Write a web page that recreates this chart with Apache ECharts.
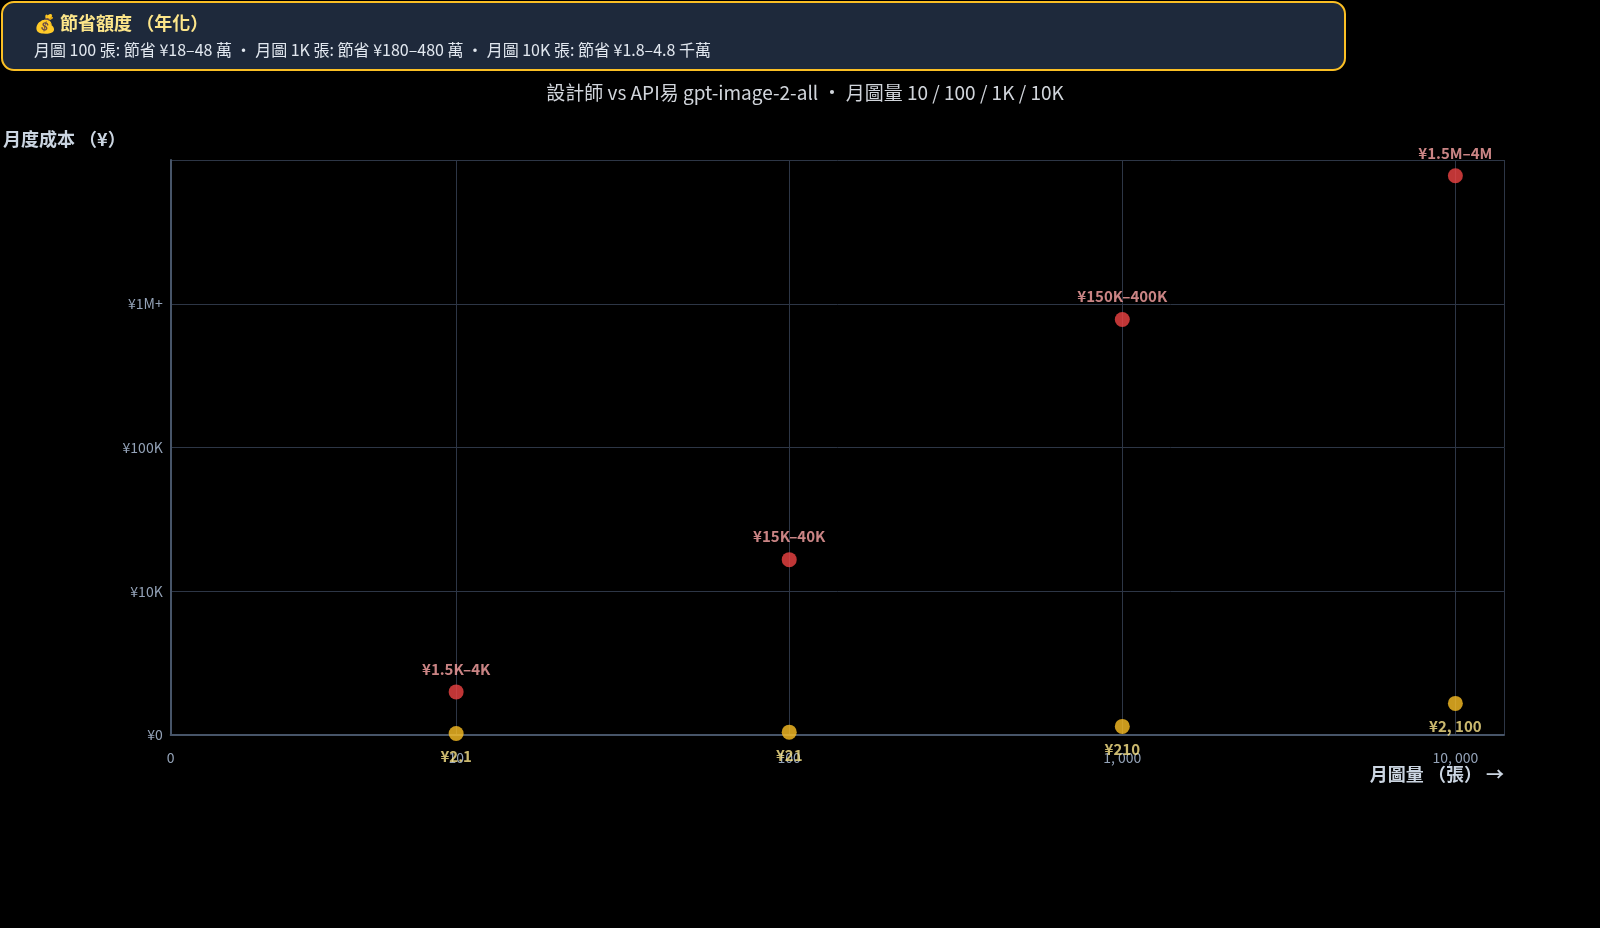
<!DOCTYPE html>
<html><head><meta charset="utf-8">
<script src="https://cdn.jsdelivr.net/npm/echarts@6/dist/echarts.min.js"></script>
<style>html,body{margin:0;background:#000}#main{width:1600px;height:928px}</style>
</head><body><div id="main"></div>
<script>
// x positions are log10 of monthly volume; y positions are the plotted decade positions
var volumes = [10, 100, 1000, 10000];
var xTickValues = [0.143, 1, 2, 3, 4];
var xTickLabels = ['0', '10', '100', '1, 000', '10, 000'];
var yTickValues = [3, 4, 5, 6];
var yTickLabels = ['¥0', '¥10K', '¥100K', '¥1M+'];
var designerPos = [3.3, 4.22, 5.89, 6.89];
var designerLabels = ['¥1.5K–4K', '¥15K–40K', '¥150K–400K', '¥1.5M–4M'];
var apiPos = [3.01, 3.02, 3.06, 3.22];
var apiLabels = ['¥2.1', '¥21', '¥210', '¥2, 100'];

var font = '"Noto Sans CJK TC", "Noto Sans", sans-serif';
var chart = echarts.init(document.getElementById('main'));

function pts(pos, labels) {
    return pos.map(function (y, i) {
        return { value: [Math.log10(volumes[i]), y], name: labels[i] };
    });
}

var option = {
    backgroundColor: '#000',
    textStyle: { fontFamily: font },
    title: {
        text: '設計師 vs API易 gpt-image-2-all · 月圖量 10 / 100 / 1K / 10K',
        left: 800, textAlign: 'center', top: 78,
        textStyle: { color: '#d1d5db', fontSize: 19, fontWeight: 'normal', fontFamily: font }
    },
    graphic: [
        {
            type: 'rect', left: 1, top: 1,
            shape: { width: 1343, height: 68, r: 12 },
            style: { fill: '#1e293b', stroke: '#fbbf24', lineWidth: 2 }
        },
        {
            type: 'text', left: 34, top: 14,
            style: { text: '💰 節省額度 （年化）', fill: '#fde68a', font: 'bold 18px ' + font }
        },
        {
            type: 'text', left: 34, top: 42,
            style: { text: '月圖 100 張: 節省 ¥18–48 萬 · 月圖 1K 張: 節省 ¥180–480 萬 · 月圖 10K 張: 節省 ¥1.8–4.8 千萬', fill: '#e2e8f0', font: '16px ' + font }
        }
    ],
    grid: { left: 160, right: 96, top: 160, bottom: 193 },
    xAxis: {
        type: 'value', min: 0.143, max: 4.146,
        name: '月圖量 （張） →', nameLocation: 'end', nameGap: 0,
        nameTextStyle: { color: '#cbd5e1', fontSize: 18, fontWeight: 'bold', align: 'right', verticalAlign: 'top', padding: [30, 0, 0, 0] },
        axisLine: { lineStyle: { color: '#475569', width: 2 } },
        axisTick: { show: false },
        axisLabel: { customValues: xTickValues, color: '#94a3b8', fontSize: 14, margin: 16,
            formatter: function (v) { var i = xTickValues.indexOf(v); return i >= 0 ? xTickLabels[i] : ''; } },
        splitLine: { show: true, showMinLine: false, customValues: [1, 2, 3, 4], lineStyle: { color: '#2d3646' } }
    },
    yAxis: {
        type: 'value', min: 3, max: 7,
        name: '月度成本 （¥）', nameLocation: 'end', nameGap: 12,
        nameTextStyle: { color: '#cbd5e1', fontSize: 18, fontWeight: 'bold', align: 'right', padding: [0, 45, 0, 0] },
        axisLine: { show: true, lineStyle: { color: '#475569', width: 2 } },
        axisTick: { show: false },
        axisLabel: { customValues: yTickValues, color: '#94a3b8', fontSize: 14,
            formatter: function (v) { var i = yTickValues.indexOf(v); return i >= 0 ? yTickLabels[i] : ''; } },
        splitLine: { show: true, customValues: [4, 5, 6], lineStyle: { color: '#2d3646' } }
    },
    series: [
        {
            name: '設計師', type: 'scatter', symbolSize: 15,
            itemStyle: { color: '#ef4444' },
            label: { show: true, position: 'top', distance: 8, formatter: '{b}', color: '#fca5a5', fontSize: 15, fontWeight: 'bold' },
            data: pts(designerPos, designerLabels)
        },
        {
            name: 'API易', type: 'scatter', symbolSize: 15,
            itemStyle: { color: '#fbbf24' },
            label: { show: true, position: 'bottom', distance: 8, formatter: '{b}', color: '#fde68a', fontSize: 15, fontWeight: 'bold' },
            data: pts(apiPos, apiLabels)
        }
    ]
};
chart.setOption(option);
</script></body></html>
